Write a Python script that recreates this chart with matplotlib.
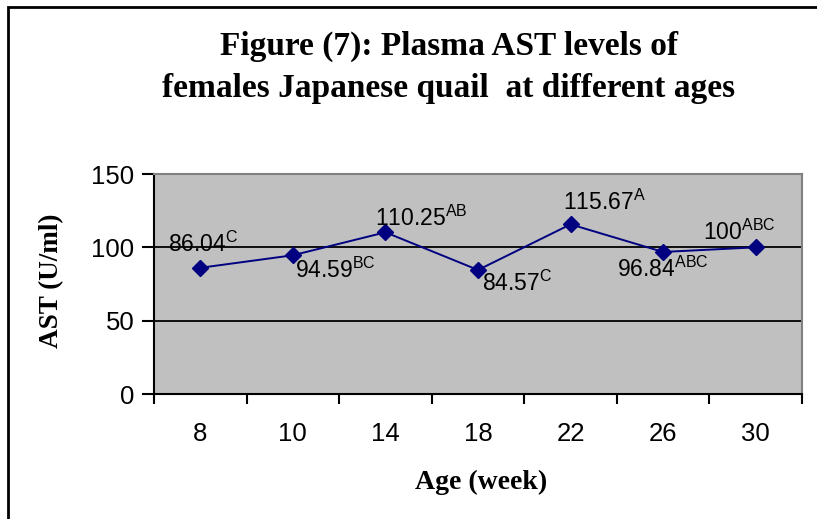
import matplotlib
matplotlib.use("Agg")
import matplotlib.pyplot as plt
from matplotlib.patches import Rectangle

# ==================================
# DATA
# ==================================
ages = ["8", "10", "14", "18", "22", "26", "30"]
ast = [86.04, 94.59, 110.25, 84.57, 115.67, 96.84, 100]
letters = ["C", "BC", "AB", "C", "A", "ABC", "ABC"]

# label offsets in pixels (left edge, baseline) relative to each marker
label_dx = [-32, 2, -10, 4, -8, -46, -53]
label_dy = [16, -23, 6, -21, 14, -25, 7]

W, H = 817, 519

plt.rcParams["mathtext.fontset"] = "custom"
plt.rcParams["mathtext.rm"] = "Liberation Sans"
plt.rcParams["font.family"] = "Liberation Sans"

fig = plt.figure(figsize=(W / 100, H / 100), dpi=100)

# chart border (left and top visible, rest runs off the picture)
fig.patches.append(Rectangle((8 / W, -0.1), 2, (1 - 7 / H) + 0.1,
                             transform=fig.transFigure, fill=False,
                             edgecolor="black", linewidth=2))

ax = fig.add_axes([154 / W, 1 - 394 / H, (802 - 154) / W, (394 - 174) / H])
ax.set_facecolor("#c0c0c0")

x = list(range(len(ages)))
ax.plot(x, ast, color="#000080", linewidth=1.4, marker="D", markersize=8,
        markerfacecolor="#000080", markeredgecolor="#000080", zorder=3)

for i, (v, l) in enumerate(zip(ast, letters)):
    txt = f"{v:g}" + r"$^{\rm " + l + "}$"
    ax.annotate(txt, (i, v), xytext=(label_dx[i], label_dy[i]),
                textcoords="offset pixels", ha="left", va="baseline",
                fontsize=16.5, color="black", zorder=4)

ax.set_xlim(-0.5, len(ages) - 0.5)
ax.set_ylim(0, 150)
ax.set_yticks([0, 50, 100, 150])
ax.set_xticks([i + 0.5 for i in range(-1, len(ages))], minor=False)
ax.set_xticklabels([""] * (len(ages) + 1))
ax.set_xticks(x, minor=True)
ax.set_xticklabels(ages, minor=True)
ax.tick_params(axis="x", which="major", length=7, width=1.5, direction="out")
ax.tick_params(axis="x", which="minor", length=0, labelsize=18.5, pad=20)
ax.tick_params(axis="y", length=9, width=1.5, direction="out",
               labelsize=18.5, pad=5)

for yv in [50, 100]:
    ax.axhline(yv, color="black", linewidth=1.3, zorder=1)

ax.spines["left"].set_color("black")
ax.spines["left"].set_linewidth(1.5)
ax.spines["bottom"].set_color("black")
ax.spines["bottom"].set_linewidth(1.5)
ax.spines["top"].set_color("#808080")
ax.spines["top"].set_linewidth(1.5)
ax.spines["right"].set_color("#808080")
ax.spines["right"].set_linewidth(1.5)

# titles and axis labels
fig.text(449 / W, 1 - 46 / H, "Figure (7): Plasma AST levels of",
         family="Liberation Serif", weight="bold", fontsize=24,
         ha="center", va="center")
fig.text(449 / W, 1 - 89 / H, "females Japanese quail  at different ages",
         family="Liberation Serif", weight="bold", fontsize=24,
         ha="center", va="center")
fig.text(52 / W, 1 - 281 / H, "AST (U/ml)", family="Liberation Serif",
         weight="bold", fontsize=19.5, rotation=90, ha="center", va="center")
fig.text(481 / W, 1 - 482 / H, "Age (week)", family="Liberation Serif",
         weight="bold", fontsize=20, ha="center", va="center")

fig.savefig("out.png", dpi=100)
